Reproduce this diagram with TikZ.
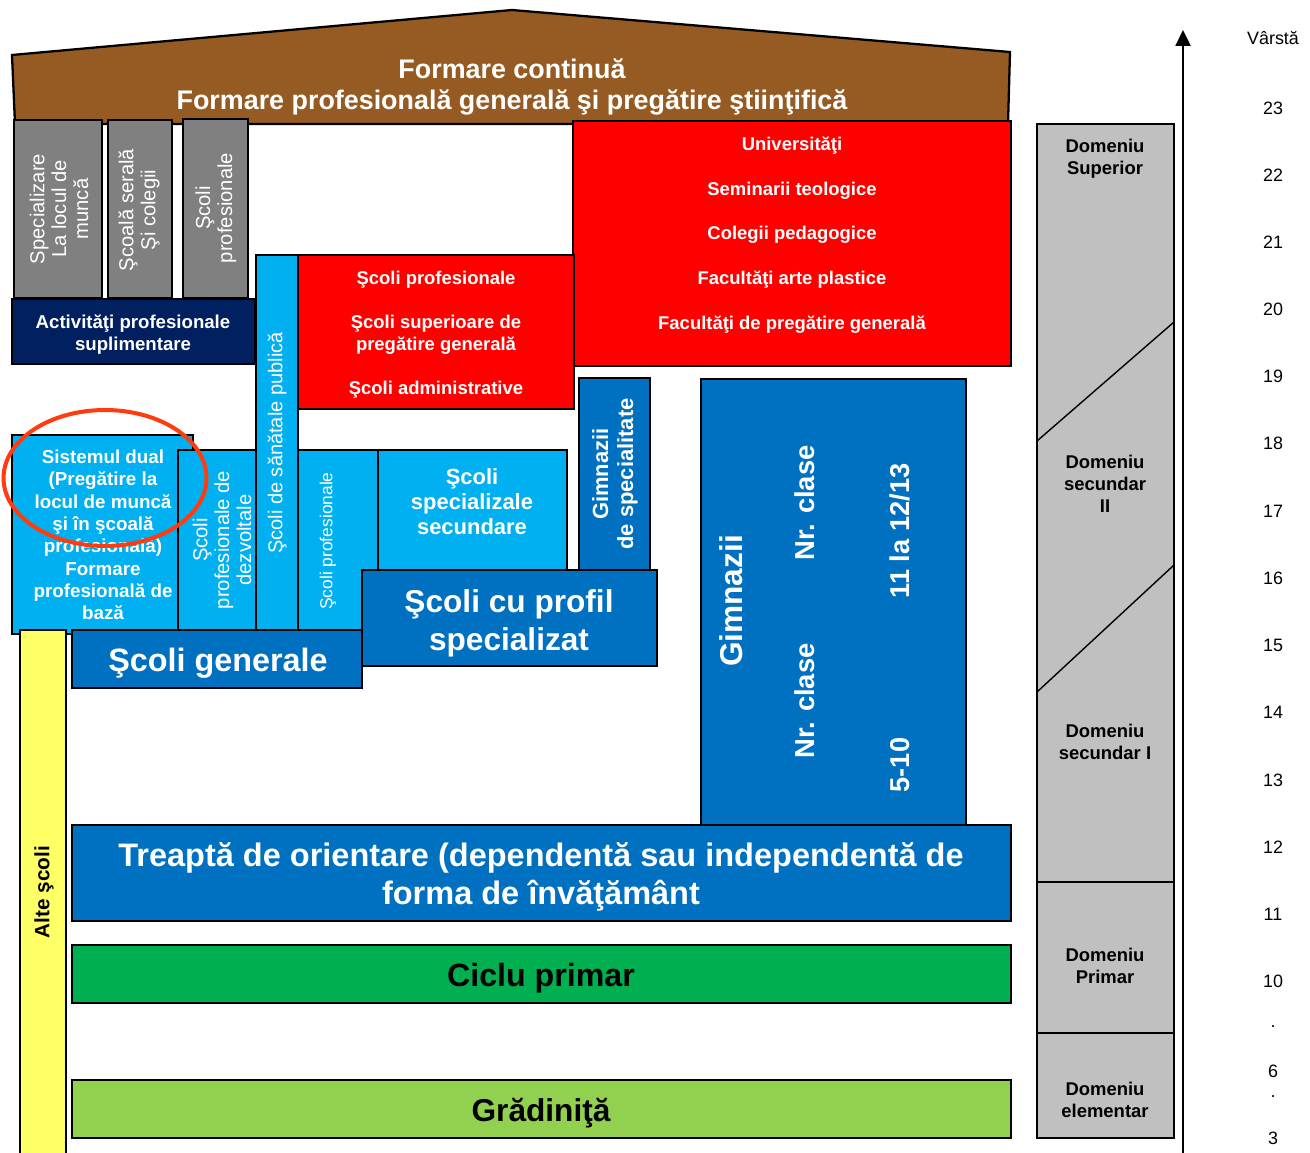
\documentclass[tikz,border=0pt]{standalone}
\usepackage{fontspec}
\setmainfont{Liberation Sans}
\usetikzlibrary{arrows.meta}

\definecolor{roofbrown}{HTML}{955B22}
\definecolor{graybox}{HTML}{808080}
\definecolor{navy}{HTML}{002060}
\definecolor{lblue}{HTML}{00B0F0}
\definecolor{mblue}{HTML}{0070C0}
\definecolor{redbox}{HTML}{FF0000}
\definecolor{green1}{HTML}{00B050}
\definecolor{green2}{HTML}{92D050}
\definecolor{yel}{HTML}{FFFF66}
\definecolor{lgray}{HTML}{C0C0C0}
\definecolor{ringred}{HTML}{FF3B10}

\newcommand{\fsz}[2]{\fontsize{#1}{#2}\selectfont}

\tikzset{
  block/.style={draw=black, line width=1pt},
  wtext/.style={text=white, align=center, inner sep=0pt},
  btext/.style={text=black, align=center, inner sep=0pt},
  domlbl/.style={btext, font=\fsz{10.5}{12.5}\bfseries},
  agelbl/.style={btext, font=\fsz{10.2}{12}},
}

\begin{document}
\begin{tikzpicture}[x=0.02cm, y=-0.02cm]
	\useasboundingbox (0,0) rectangle (1310,1152);

	% Roof
	\draw[block, line width=1.3pt, fill=roofbrown] (15,124) -- (12,55) -- (512,10) -- (1010,52) -- (1008,124) -- cycle;
	\node[wtext, font=\fsz{15.3}{18.1}\bfseries] (roof) at (512,87) {Formare continuă\\Formare profesională generală şi pregătire ştiinţifică};

	% Gray columns
	\draw[block, fill=graybox] (14,120) rectangle (102,298);
	\node[wtext, rotate=90, font=\fsz{11.5}{12.5}] (specloc) at (59,209) {Specializare\\La locul de\\muncă};
	\draw[block, fill=graybox] (108,120) rectangle (172,298);
	\node[wtext, rotate=90, font=\fsz{11.5}{12.5}] (serala) at (139,210) {Şcoală serală\\Şi colegii};
	\draw[block, fill=graybox] (183,119) rectangle (248,298);
	\node[wtext, rotate=90, font=\fsz{11.5}{12.5}] (profgray) at (216,208) {Şcoli\\profesionale};

	% Navy box
	\draw[block, fill=navy] (12,299) rectangle (255,364);
	\node[wtext, font=\fsz{10.6}{12.5}\bfseries] (activ) at (133,335) {Activităţi profesionale\\suplimentare};

	% Red boxes
	\draw[block, fill=redbox] (573,121) rectangle (1011,366);
	\node[wtext, font=\fsz{10.5}{25.5}\bfseries] (univ) at (792,235) {Universităţi\\Seminarii teologice\\Colegii pedagogice\\Facultăţi arte plastice\\Facultăţi de pregătire generală};

	\draw[block, fill=lblue] (256,255) rectangle (298,630);
	\node[wtext, rotate=90, font=\fsz{11.4}{13}] (sanat) at (277,443) {Şcoli de sănătale publică};

	\draw[block, fill=redbox] (298,255) rectangle (574,409);
	\node[wtext, font=\fsz{10.5}{12.5}\bfseries] (scsup) at (436,335) {Şcoli profesionale\\[12.5pt]Şcoli superioare de\\pregătire generală\\[12.5pt]Şcoli administrative};

	% Light blue boxes
	\draw[block, fill=lblue] (12,435) rectangle (193,634);
	\node[wtext, font=\fsz{10.7}{12.7}\bfseries] (dual) at (103,535) {Sistemul dual\\(Pregătire la\\locul de muncă\\şi în şcoală\\profesională)\\Formare\\profesională de\\bază};

	\draw[block, fill=lblue] (178,450) rectangle (256,630);
	\node[wtext, rotate=90, font=\fsz{11.5}{12.5}] (dezv) at (222,540) {Şcoli\\profesionale de\\dezvoltale};

	\draw[block, fill=lblue] (298,450) rectangle (378,630);
	\node[wtext, rotate=90, font=\fsz{9.9}{12}] (profsmall) at (328,541) {Şcoli profesionale};

	\draw[block, fill=lblue] (378,450) rectangle (567,570);
	\node[wtext, font=\fsz{12.5}{14.2}\bfseries] (spsec) at (472,502) {Şcoli\\specializale\\secundare};

	% Medium blue boxes
	\draw[block, fill=mblue] (579,378) rectangle (650,570);
	\node[wtext, rotate=90, font=\fsz{12.5}{14.2}\bfseries] (gimspec) at (615,474) {Gimnazii\\de specialitate};

	\draw[block, fill=mblue] (362,570) rectangle (657,666);
	\node[wtext, font=\fsz{18}{21.5}\bfseries] (profil) at (509,623) {Şcoli cu profil\\specializat};

	\draw[block, fill=mblue] (72,630) rectangle (362,688);
	\node[wtext, font=\fsz{18.4}{22}\bfseries] (generale) at (218,663) {Şcoli generale};

	% Yellow bar
	\draw[block, fill=yel] (20,630) rectangle (66,1170);
	\node[btext, rotate=90, font=\fsz{11.8}{14}\bfseries] (alte) at (44,892) {Alte şcoli};

	% Gimnazii
	\draw[block, fill=mblue] (701,379) rectangle (966,825);
	\node[wtext, rotate=90, font=\fsz{18}{20}\bfseries] (gimn) at (731,601) {Gimnazii};
	\node[wtext, rotate=90, font=\fsz{15.6}{18}\bfseries] (nrsus) at (805,503) {Nr. clase};
	\node[wtext, rotate=90, font=\fsz{15.6}{18}\bfseries] (nrjos) at (805,701) {Nr. clase};
	\node[wtext, rotate=90, font=\fsz{15.5}{18}\bfseries] (clsus) at (900,531) {11 la 12/13};
	\node[wtext, rotate=90, font=\fsz{15.5}{18}\bfseries] (cljos) at (900,765) {5-10};

	% Bottom bands
	\draw[block, fill=mblue] (72,825) rectangle (1011,921);
	\node[wtext, font=\fsz{18.5}{21.5}\bfseries] (treapta) at (541,877) {Treaptă de orientare (dependentă sau independentă de\\forma de învăţământ};

	\draw[block, fill=green1] (72,945) rectangle (1011,1003);
	\node[btext, font=\fsz{18.3}{22}\bfseries] (ciclu) at (541,978) {Ciclu primar};

	\draw[block, fill=green2] (72,1080) rectangle (1011,1138);
	\node[btext, font=\fsz{18}{22}\bfseries] (gradi) at (541,1113) {Grădiniţă};

	% Red ring
	\draw[ringred, line width=2.3pt] (105,478) ellipse [x radius=2.03cm, y radius=1.36cm];

	% Domains column
	\draw[block, fill=lgray] (1037,124) rectangle (1174,1138);
	\draw[line width=0.8pt] (1037,441) -- (1174,322);
	\draw[line width=0.8pt] (1037,692) -- (1174,565);
	\draw[line width=0.8pt] (1037,882) -- (1174,882);
	\draw[line width=0.8pt] (1037,1033) -- (1174,1033);
	\node[domlbl] (domsup) at (1105,159) {Domeniu\\Superior};
	\node[domlbl] (domsec2) at (1105,484) {Domeniu\\secundar\\II};
	\node[domlbl] (domsec1) at (1105,742) {Domeniu\\secundar I};
	\node[domlbl] (domprim) at (1105,966) {Domeniu\\Primar};
	\node[domlbl] (domelem) at (1105,1100) {Domeniu\\elementar};

	% Age axis
	\coordinate (axbot) at (1183,1160);
	\coordinate (axtop) at (1183,30);
	\draw[line width=1.1pt, -{Triangle[length=9pt, width=8.5pt]}] (axbot) -- (axtop);
	\node[agelbl] (varsta) at (1273,38) {Vârstă};
	\foreach \a/\y [count=\i] in {23/108, 22/175, 21/242, 20/309, 19/376, 18/443, 17/511, 16/578, 15/645, 14/712, 13/780, 12/847, 11/914, 10/981, ./1027, 6/1071, ./1097, 3/1138}
		\node[agelbl] (age\i) at (1273,\y) {\a};
\end{tikzpicture}
\end{document}
